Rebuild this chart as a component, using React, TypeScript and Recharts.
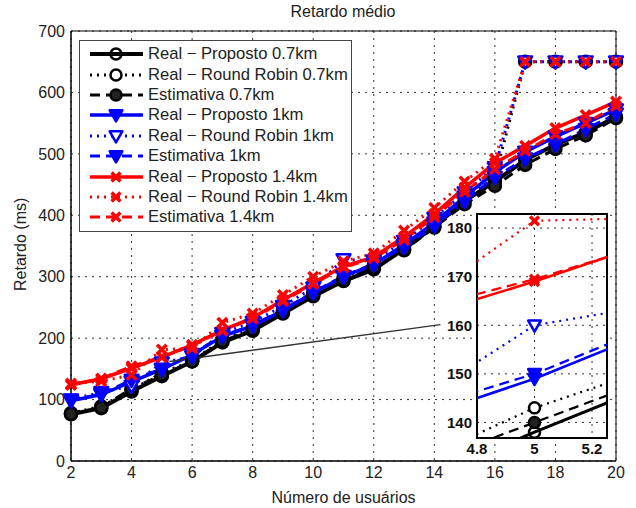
import { LineChart, Line, XAxis, YAxis, CartesianGrid, Legend, ReferenceArea, ReferenceLine } from 'recharts';

// número de usuários
const usuarios = [2, 3, 4, 5, 6, 7, 8, 9, 10, 11, 12, 13, 14, 15, 16, 17, 18, 19, 20];

// 0.7km
const realProposto07 = [76, 86, 113, 138, 162, 193, 212, 240, 268, 293, 312, 345, 382, 423, 455, 490, 515, 535, 560];
const realRoundRobin07 = [78, 89, 116, 143, 163, 197, 216, 245, 273, 298, 318, 350, 388, 430, 462, 650, 650, 650, 650];
const estimativa07 = [77, 87, 118, 140, 162, 195, 214, 242, 270, 295, 315, 343, 380, 418, 448, 482, 508, 530, 558];

// 1km
const realProposto1 = [98, 108, 129, 149, 173, 203, 220, 245, 274, 300, 320, 352, 388, 430, 470, 503, 528, 550, 572];
const realRoundRobin1 = [100, 112, 122, 160, 170, 208, 226, 252, 282, 328, 326, 358, 395, 437, 478, 650, 650, 650, 650];
const estimativa1 = [99, 109, 132, 150, 174, 204, 221, 246, 275, 301, 321, 348, 383, 423, 462, 492, 515, 540, 565];

// 1.4km
const realProposto14 = [124, 134, 151, 169, 189, 213, 233, 262, 290, 317, 332, 365, 402, 445, 485, 513, 542, 563, 585];
const realRoundRobin14 = [126, 130, 140, 181.5, 183, 225, 240, 270, 300, 325, 338, 375, 412, 455, 492, 650, 650, 650, 650];
const estimativa14 = [124, 134, 154, 169.5, 187.5, 212, 232, 260, 288, 315, 330, 360, 397, 438, 475, 505, 532, 550, 578];

const xTicks = [2, 4, 6, 8, 10, 12, 14, 16, 18, 20];
const yTicks = [0, 100, 200, 300, 400, 500, 600, 700];
const insetXTicks = [4.8, 5, 5.2];
const insetYTicks = [140, 150, 160, 170, 180];

type Shape = 'circle' | 'triangle' | 'cross';

interface Serie {
  key: string;
  name: string;
  color: string;
  dash?: string;
  width: number;
  shape: Shape;
  fill: string;
  values: number[];
}

const SOLID = undefined;
const DOTTED = '2 5';
const DASHED = '10 6';

const series: Serie[] = [
  { key: 'p07', name: 'Real − Proposto 0.7km', color: '#000', dash: SOLID, width: 4, shape: 'circle', fill: 'none', values: realProposto07 },
  { key: 'rr07', name: 'Real − Round Robin 0.7km', color: '#000', dash: DOTTED, width: 3, shape: 'circle', fill: '#fff', values: realRoundRobin07 },
  { key: 'e07', name: 'Estimativa 0.7km', color: '#000', dash: DASHED, width: 3, shape: 'circle', fill: '#222', values: estimativa07 },
  { key: 'p1', name: 'Real − Proposto 1km', color: '#0000ff', dash: SOLID, width: 3.5, shape: 'triangle', fill: '#0000ff', values: realProposto1 },
  { key: 'rr1', name: 'Real − Round Robin 1km', color: '#0000ff', dash: DOTTED, width: 3, shape: 'triangle', fill: '#fff', values: realRoundRobin1 },
  { key: 'e1', name: 'Estimativa 1km', color: '#0000ff', dash: DASHED, width: 3, shape: 'triangle', fill: '#0000ff', values: estimativa1 },
  { key: 'p14', name: 'Real − Proposto 1.4km', color: '#ff0000', dash: SOLID, width: 3.5, shape: 'cross', fill: 'none', values: realProposto14 },
  { key: 'rr14', name: 'Real − Round Robin 1.4km', color: '#ff0000', dash: DOTTED, width: 3, shape: 'cross', fill: 'none', values: realRoundRobin14 },
  { key: 'e14', name: 'Estimativa 1.4km', color: '#ff0000', dash: DASHED, width: 3, shape: 'cross', fill: 'none', values: estimativa14 },
];

const data = usuarios.map((u, i) => {
  const row: Record<string, number> = { x: u };
  series.forEach((s) => {
    row[s.key] = s.values[i];
  });
  return row;
});

function Marker({ cx, cy, s, size }: { cx: number; cy: number; s: Serie; size: number }) {
  if (cx == null || cy == null) return null;
  if (s.shape === 'circle') {
    return <circle cx={cx} cy={cy} r={size} stroke={s.color} strokeWidth={2.5} fill={s.fill} />;
  }
  if (s.shape === 'triangle') {
    const w = size * 1.15;
    return (
      <polygon
        points={`${cx - w},${cy - w * 0.75} ${cx + w},${cy - w * 0.75} ${cx},${cy + w}`}
        stroke={s.color}
        strokeWidth={2.5}
        strokeLinejoin="round"
        fill={s.fill}
      />
    );
  }
  const c = size * 0.8;
  return (
    <path
      d={`M${cx - c},${cy - c}L${cx + c},${cy + c}M${cx - c},${cy + c}L${cx + c},${cy - c}`}
      stroke={s.color}
      strokeWidth={3.5}
      fill="none"
    />
  );
}

const dotFor = (s: Serie, size: number) => (props: any) => (
  <Marker key={`${s.key}-${props.index}`} cx={props.cx} cy={props.cy} s={s} size={size} />
);

const renderLegend = () => (
  <div style={{ background: '#fff', border: '1px solid #444', width: 271, height: 187, paddingTop: 3, boxSizing: 'content-box' }}>
    {series.map((s) => (
      <div key={s.key} style={{ display: 'flex', alignItems: 'center', height: 20.4 }}>
        <svg width={66} height={20}>
          <line x1={10} x2={63} y1={10} y2={10} stroke={s.color} strokeWidth={s.width} strokeDasharray={s.dash} />
          <Marker cx={36} cy={10} s={s} size={5.5} />
        </svg>
        <span style={{ fontSize: 16.6, marginLeft: 2, color: '#222', whiteSpace: 'nowrap' }}>{s.name}</span>
      </div>
    ))}
  </div>
);

const font = '"Liberation Sans", Arial, sans-serif';

export default function App() {
  return (
    <div style={{ position: 'absolute', left: 0, top: 0, width: 636, height: 508, background: '#fff', fontFamily: font }}>
      <div style={{ position: 'absolute', left: 50, width: 586, top: 3, textAlign: 'center', fontSize: 16, color: '#222' }}>
        Retardo médio
      </div>
      <div style={{ position: 'absolute', left: 0, top: 0 }}>
        <LineChart width={636} height={508} data={data} margin={{ top: 31, right: 20, bottom: 0, left: 0 }}>
          <CartesianGrid stroke="#333" strokeDasharray="2 5" />
          <XAxis
            dataKey="x"
            type="number"
            domain={[2, 20]}
            ticks={xTicks}
            height={47}
            tickLine={false}
            tickSize={4}
            axisLine={{ stroke: '#000' }}
            tick={{ fontSize: 16, fill: '#222' }}
            label={{ value: 'Número de usuários', position: 'insideBottom', offset: 5, fontSize: 16, fill: '#222' }}
          />
          <YAxis
            type="number"
            domain={[0, 700]}
            ticks={yTicks}
            width={71}
            tickLine={false}
            tickSize={4}
            axisLine={{ stroke: '#000' }}
            tick={{ fontSize: 16, fill: '#222' }}
            label={{ value: 'Retardo (ms)', angle: -90, position: 'insideLeft', offset: 20, dy: 45, fontSize: 16, fill: '#222' }}
          />
          {series.map((s) => (
            <Line
              key={s.key}
              dataKey={s.key}
              type="linear"
              stroke={s.color}
              strokeWidth={s.width}
              strokeDasharray={s.dash}
              dot={dotFor(s, 6)}
              activeDot={false}
              isAnimationActive={false}
            />
          ))}
          <ReferenceLine
            segment={[{ x: 5.25, y: 162 }, { x: 14.2, y: 222 }]}
            stroke="#333"
            strokeWidth={1.5}
            ifOverflow="visible"
          />
          <ReferenceArea x1={2} x2={20} y1={0} y2={700} fill="none" stroke="#000" strokeWidth={1} ifOverflow="visible" />
          <Legend
            content={renderLegend}
            layout="vertical"
            align="center"
            verticalAlign="middle"
            wrapperStyle={{ left: 79, top: 40, width: 273, height: 190 }}
          />
        </LineChart>
      </div>
      <div style={{ position: 'absolute', left: 428, top: 206 }}>
        <LineChart width={188} height={255} data={data} margin={{ top: 8, right: 9, bottom: 0, left: 0 }}>
          <CartesianGrid fill="#fff" fillOpacity={1} stroke="#333" strokeDasharray="2 5" />
          <XAxis
            dataKey="x"
            type="number"
            domain={[4.8, 5.252]}
            allowDataOverflow
            ticks={insetXTicks}
            height={23}
            tickLine={false}
            tickSize={3}
            axisLine={false}
            tick={{ fontSize: 15, fontWeight: 'bold', fill: '#111' }}
          />
          <YAxis
            type="number"
            domain={[136.8, 182.9]}
            allowDataOverflow
            ticks={insetYTicks}
            width={49}
            tickLine={false}
            tickSize={3}
            axisLine={false}
            tick={{ fontSize: 15, fontWeight: 'bold', fill: '#111' }}
          />
          {series.map((s) => (
            <Line
              key={s.key}
              dataKey={s.key}
              type="linear"
              stroke={s.color}
              strokeWidth={s.width * 0.75}
              strokeDasharray={s.dash}
              dot={dotFor(s, 5.5)}
              activeDot={false}
              isAnimationActive={false}
            />
          ))}
          <ReferenceArea x1={4.8} x2={5.252} y1={136.8} y2={182.9} fill="none" stroke="#000" strokeWidth={2} ifOverflow="visible" />
        </LineChart>
      </div>
    </div>
  );
}
